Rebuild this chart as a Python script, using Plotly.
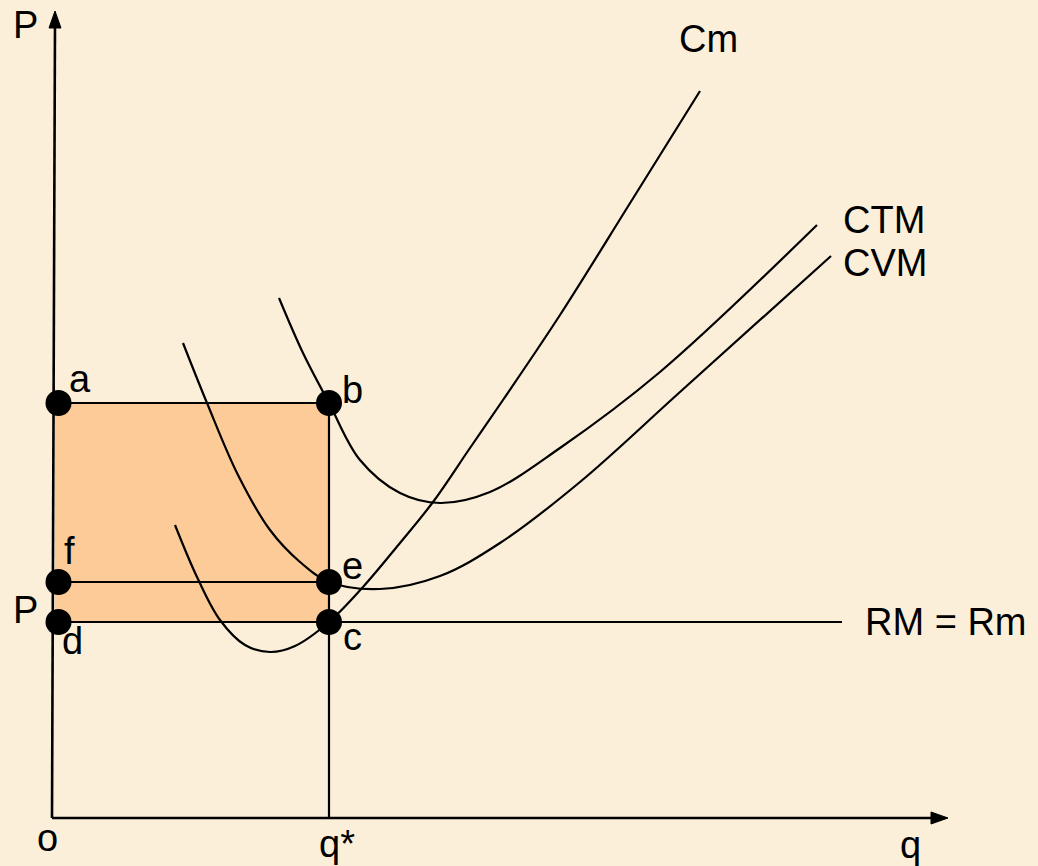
import plotly.graph_objects as go

# ---- data (units; origin at o) ----
q_star = 27.6
p_ab = 41.5          # level of a-b (CTM at q*)
p_fe = 23.6          # level of f-e (CVM at q*)
p_market = 19.6      # market price P = RM = Rm
rm_end = 78.9

ctm_q = [22.6, 25.0, 27.6, 30.7, 34.7, 38.7, 43.7, 50.7, 60.7, 76.4]
ctm_p = [52.0, 46.5, 41.5, 35.8, 32.5, 31.5, 32.6, 37.0, 44.6, 59.3]

cvm_q = [13.0, 15.4, 18.5, 21.7, 24.7, 27.6, 32.7, 38.7, 44.7, 52.7, 62.7, 77.8]
cvm_p = [47.5, 41.5, 34.3, 28.8, 25.6, 23.6, 22.9, 24.2, 27.5, 33.6, 42.6, 56.2]

cm_q = [12.2, 14.4, 16.7, 19.2, 21.7, 24.2, 27.6, 31.0, 34.7, 38.0, 41.7, 45.0, 50.7, 57.9, 64.7]
cm_p = [29.3, 24.1, 19.8, 17.3, 16.6, 17.2, 19.6, 23.1, 27.5, 31.6, 37.0, 41.8, 50.3, 61.8, 72.7]

x_axis_end = 89.5
y_axis_end = 80.7

BLACK = "#000000"
BG = "#FCEFDA"
FONT = "Liberation Sans, Arial, sans-serif"

fig = go.Figure()

# shaded rectangle
fig.add_shape(type="rect", x0=0.2, x1=q_star, y0=p_market, y1=p_ab,
              fillcolor="#FDCB98", line=dict(width=0), layer="below")

def line(xs, ys, w=2.2, shape="linear"):
    fig.add_trace(go.Scatter(x=xs, y=ys, mode="lines",
                             line=dict(color=BLACK, width=w, shape=shape, smoothing=1.0),
                             hoverinfo="skip", showlegend=False))

# axes
line([-0.1, 0.2], [0, y_axis_end - 1.2], w=2.6)
line([-0.1, x_axis_end - 1.2], [0, 0], w=2.6)
# arrow heads
fig.add_trace(go.Scatter(x=[0.2, 0.2 - 0.6, 0.2 + 0.6, 0.2],
                         y=[y_axis_end, y_axis_end - 1.7, y_axis_end - 1.7, y_axis_end],
                         mode="lines", fill="toself", fillcolor=BLACK, line=dict(color=BLACK, width=1),
                         hoverinfo="skip", showlegend=False))
fig.add_trace(go.Scatter(x=[x_axis_end, x_axis_end - 1.7, x_axis_end - 1.7, x_axis_end],
                         y=[0, 0.6, -0.6, 0],
                         mode="lines", fill="toself", fillcolor=BLACK, line=dict(color=BLACK, width=1),
                         hoverinfo="skip", showlegend=False))

# guide lines
line([0.2, q_star], [p_ab, p_ab])
line([0.2, q_star], [p_fe, p_fe])
line([0.2, rm_end], [p_market, p_market])
line([q_star, q_star], [0, p_ab])

# cost curves
line(ctm_q, ctm_p, shape="spline")
line(cvm_q, cvm_p, shape="spline")
line(cm_q, cm_p, shape="spline")

# points
fig.add_trace(go.Scatter(x=[0.55, q_star, 0.55, q_star, 0.55, q_star],
                         y=[p_ab, p_ab, p_fe, p_fe, p_market, p_market],
                         mode="markers", marker=dict(color=BLACK, size=26),
                         hoverinfo="skip", showlegend=False))

labels = [
    ("P", -2.8, 79.3), ("Cm", 65.5, 77.9), ("CTM", 83.1, 59.8), ("CVM", 83.2, 55.5),
    ("RM = Rm", 89.3, 19.6), ("a", 2.7, 43.9), ("b", 29.9, 42.8), ("f", 1.6, 26.7),
    ("e", 29.9, 25.2), ("P", -2.8, 20.8), ("d", 1.9, 17.7), ("c", 29.9, 18.1),
    ("o", -0.6, -2.0), ("q*", 28.4, -2.6), ("q", 85.7, -2.7),
]
for t, x, y in labels:
    fig.add_annotation(x=x, y=y, text=t, showarrow=False, xanchor="center", yanchor="middle",
                       font=dict(family=FONT, size=38, color=BLACK))

fig.update_layout(
    width=1038, height=866, margin=dict(l=0, r=0, t=0, b=0),
    paper_bgcolor=BG, plot_bgcolor=BG,
    xaxis=dict(range=[-5.3, 98.5], visible=False, fixedrange=True),
    yaxis=dict(range=[-4.8, 81.8], visible=False, fixedrange=True),
    showlegend=False,
)
fig.write_html("out.html", config={"displayModeBar": False},
               post_script="document.body.style.margin='0px';document.body.style.overflow='hidden';"
                           "document.body.style.background='" + BG + "';")
